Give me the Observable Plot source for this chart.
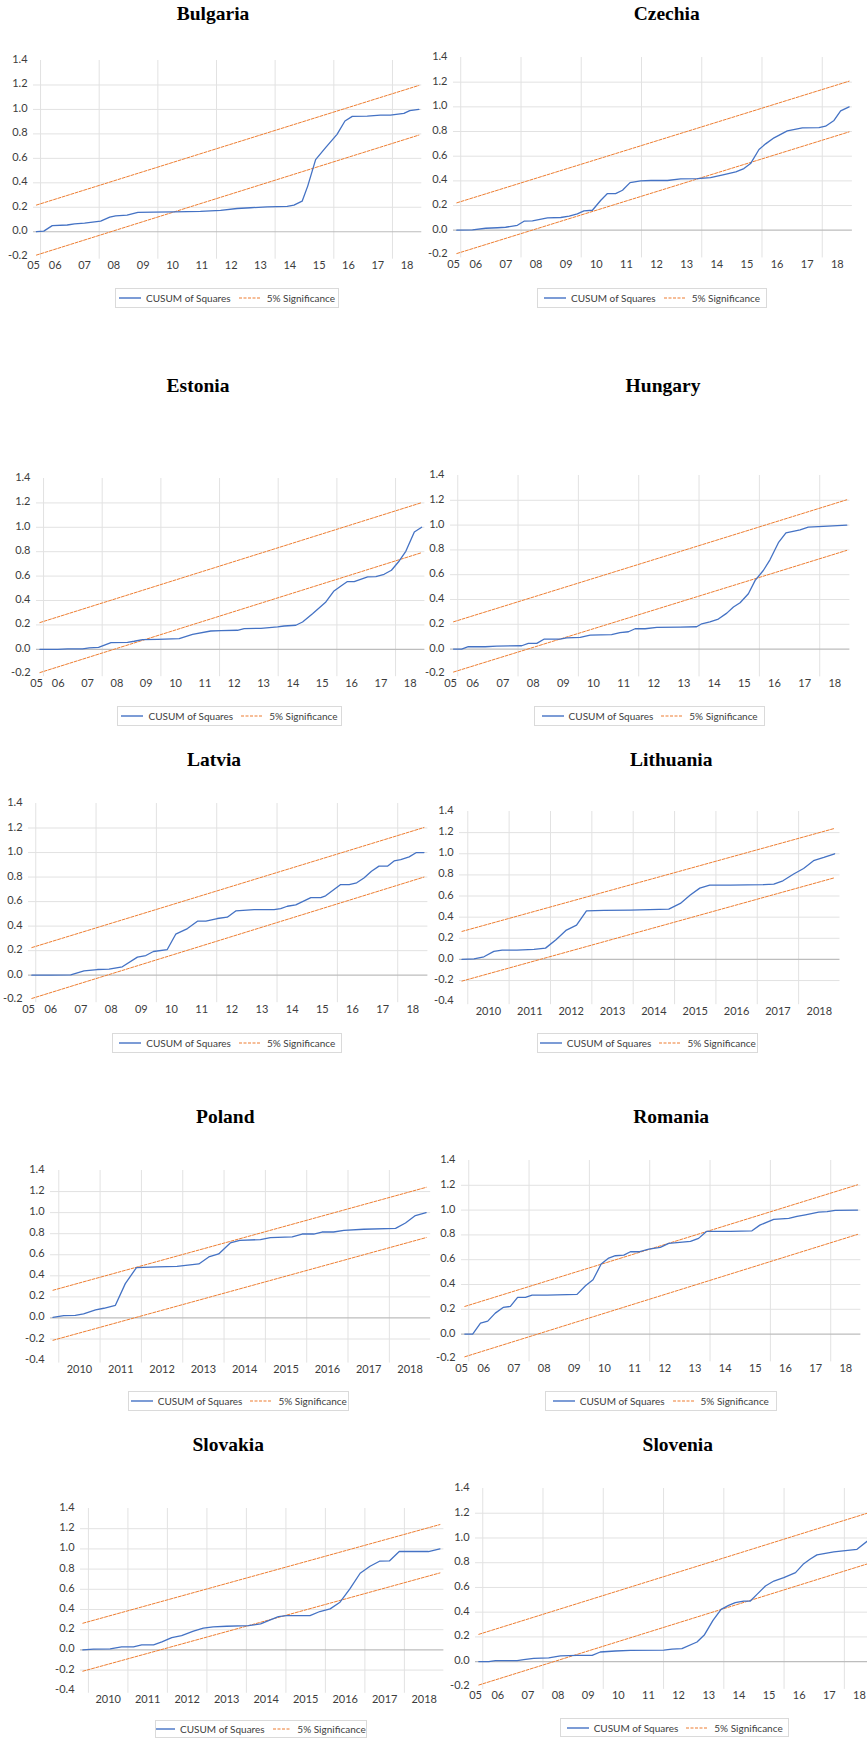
<!DOCTYPE html>
<html>
<head>
<meta charset="utf-8">
<script src="https://cdn.jsdelivr.net/npm/d3@7"></script>
<script src="https://cdn.jsdelivr.net/npm/@observablehq/plot@0.6"></script>
<style>
  html, body { margin: 0; padding: 0; background: #fff; overflow: hidden; }
  #page { position: relative; width: 867px; height: 1738px; overflow: hidden; }
  .panel { position: absolute; }
  .panel svg { max-width: none !important; }
  .title {
    position: absolute; white-space: nowrap; transform: translateX(-50%);
    font-family: "Liberation Serif", "Times New Roman", serif; font-weight: bold;
    font-size: 19.5px; line-height: 19.5px; color: #000;
  }
  .legend {
    position: absolute; box-sizing: border-box; border: 1px solid #dadada;
    display: flex; align-items: center; justify-content: center;
    font-family: Lato, sans-serif; font-size: 10px; color: #404040; white-space: nowrap;
  }
  .legend svg { display: block; }
</style>
</head>
<body>
<div id="page"></div>
<script>
// CUSUM of squares paths: [decimal year, cumulative share]
const bulgaria = [[2005.86,0],[2006.11,0.005],[2006.40,0.05],[2006.91,0.055],[2007.16,0.065],[2007.50,0.07],[2008.05,0.087],[2008.36,0.12],[2008.56,0.13],[2008.95,0.135],[2009.32,0.158],[2009.86,0.16],[2010.55,0.163],[2011.45,0.166],[2012.14,0.174],[2012.70,0.19],[2013.16,0.196],[2013.73,0.204],[2014.41,0.207],[2014.64,0.218],[2014.92,0.25],[2015.11,0.373],[2015.38,0.59],[2015.72,0.687],[2016.11,0.796],[2016.38,0.905],[2016.63,0.943],[2017.14,0.945],[2017.59,0.954],[2017.93,0.954],[2018.39,0.967],[2018.59,0.99],[2018.90,1.0]];
const czechia = [[2005.87,0],[2006.39,0.003],[2006.83,0.016],[2007.22,0.02],[2007.49,0.024],[2007.88,0.04],[2008.10,0.073],[2008.38,0.076],[2008.88,0.10],[2009.32,0.103],[2009.60,0.114],[2009.87,0.132],[2010.09,0.157],[2010.37,0.162],[2010.65,0.243],[2010.87,0.297],[2011.14,0.297],[2011.37,0.324],[2011.62,0.386],[2011.97,0.40],[2012.31,0.403],[2012.86,0.403],[2013.30,0.416],[2013.85,0.419],[2014.29,0.427],[2014.74,0.451],[2015.13,0.473],[2015.40,0.50],[2015.62,0.54],[2015.90,0.654],[2016.12,0.70],[2016.40,0.749],[2016.84,0.805],[2017.34,0.83],[2017.89,0.832],[2018.11,0.843],[2018.39,0.89],[2018.61,0.968],[2018.89,1.0]];
const estonia = [[2005.875,0],[2006.48,0],[2006.82,0.003],[2007.33,0.003],[2007.56,0.011],[2007.875,0.016],[2008.30,0.055],[2008.86,0.057],[2009.09,0.066],[2009.375,0.079],[2009.89,0.082],[2010.625,0.087],[2011.08,0.123],[2011.70,0.15],[2012.05,0.153],[2012.61,0.156],[2012.84,0.169],[2013.41,0.172],[2013.98,0.183],[2014.20,0.191],[2014.60,0.197],[2014.83,0.224],[2015.17,0.292],[2015.625,0.388],[2015.89,0.475],[2016.14,0.519],[2016.36,0.555],[2016.59,0.555],[2017.05,0.593],[2017.33,0.596],[2017.61,0.615],[2017.86,0.648],[2018.125,0.724],[2018.35,0.803],[2018.64,0.962],[2018.89,1.0]];
const hungary = [[2005.86,0],[2006.13,0],[2006.35,0.019],[2006.91,0.019],[2007.29,0.024],[2008.12,0.027],[2008.34,0.046],[2008.62,0.046],[2008.87,0.081],[2009.39,0.081],[2009.61,0.091],[2010.06,0.094],[2010.39,0.113],[2011.10,0.116],[2011.38,0.132],[2011.66,0.14],[2011.88,0.164],[2012.21,0.164],[2012.60,0.175],[2013.37,0.177],[2013.92,0.18],[2014.09,0.204],[2014.36,0.22],[2014.64,0.242],[2014.92,0.29],[2015.14,0.339],[2015.36,0.374],[2015.635,0.446],[2015.86,0.554],[2016.13,0.634],[2016.35,0.72],[2016.63,0.858],[2016.88,0.938],[2017.35,0.962],[2017.62,0.984],[2018.12,0.989],[2018.895,1.0]];
const latvia = [[2005.87,0],[2006.50,0],[2007.16,0.003],[2007.60,0.035],[2008.04,0.046],[2008.43,0.049],[2008.87,0.068],[2009.37,0.147],[2009.65,0.16],[2009.90,0.193],[2010.36,0.209],[2010.64,0.334],[2011.03,0.38],[2011.36,0.44],[2011.64,0.44],[2012.02,0.462],[2012.35,0.473],[2012.63,0.524],[2013.24,0.535],[2013.90,0.535],[2014.12,0.543],[2014.34,0.562],[2014.62,0.573],[2015.12,0.633],[2015.45,0.633],[2015.61,0.647],[2016.11,0.739],[2016.39,0.739],[2016.64,0.753],[2016.88,0.793],[2017.13,0.848],[2017.38,0.889],[2017.66,0.889],[2017.88,0.932],[2018.10,0.943],[2018.38,0.965],[2018.62,1.0],[2018.87,1.0]];
const lithuania = [[2009.86,0],[2010.15,0.006],[2010.39,0.025],[2010.63,0.076],[2010.83,0.088],[2011.19,0.088],[2011.60,0.095],[2011.88,0.107],[2012.14,0.189],[2012.385,0.278],[2012.63,0.325],[2012.87,0.46],[2013.29,0.464],[2013.93,0.467],[2014.86,0.476],[2015.14,0.53],[2015.38,0.609],[2015.61,0.675],[2015.85,0.703],[2016.35,0.703],[2017.16,0.707],[2017.40,0.713],[2017.62,0.744],[2017.88,0.808],[2018.12,0.861],[2018.36,0.934],[2018.61,0.965],[2018.87,1.0]];
const poland = [[2009.86,0.006],[2010.12,0.022],[2010.40,0.025],[2010.60,0.038],[2010.89,0.076],[2011.09,0.092],[2011.37,0.12],[2011.61,0.326],[2011.88,0.478],[2012.38,0.484],[2012.86,0.49],[2013.39,0.513],[2013.63,0.579],[2013.87,0.608],[2014.15,0.712],[2014.38,0.737],[2014.88,0.744],[2015.12,0.763],[2015.65,0.769],[2015.89,0.797],[2016.17,0.797],[2016.37,0.816],[2016.65,0.816],[2016.90,0.832],[2017.38,0.842],[2018.15,0.851],[2018.39,0.902],[2018.63,0.972],[2018.89,1.0]];
const romania = [[2005.87,0],[2006.13,0],[2006.39,0.089],[2006.63,0.105],[2006.88,0.169],[2007.14,0.215],[2007.38,0.223],[2007.62,0.296],[2007.88,0.296],[2008.10,0.315],[2008.60,0.315],[2009.59,0.32],[2009.87,0.39],[2010.12,0.438],[2010.39,0.565],[2010.64,0.613],[2010.86,0.632],[2011.14,0.637],[2011.36,0.664],[2011.64,0.664],[2011.97,0.685],[2012.35,0.699],[2012.63,0.731],[2013.35,0.747],[2013.62,0.772],[2013.88,0.828],[2014.67,0.828],[2015.39,0.833],[2015.65,0.879],[2016.11,0.925],[2016.61,0.933],[2016.88,0.949],[2017.16,0.962],[2017.60,0.984],[2017.88,0.987],[2018.15,0.997],[2018.89,1.0]];
const slovakia = [[2009.86,0],[2010.13,0.007],[2010.55,0.01],[2010.84,0.03],[2011.14,0.03],[2011.35,0.05],[2011.65,0.05],[2011.86,0.079],[2012.11,0.122],[2012.36,0.142],[2012.66,0.185],[2012.91,0.215],[2013.16,0.228],[2013.50,0.234],[2014.05,0.241],[2014.36,0.257],[2014.56,0.29],[2014.81,0.33],[2015.02,0.34],[2015.61,0.34],[2015.86,0.38],[2016.12,0.406],[2016.37,0.472],[2016.62,0.604],[2016.88,0.759],[2017.13,0.828],[2017.37,0.878],[2017.62,0.881],[2017.87,0.974],[2018.61,0.974],[2018.90,1.0]];
const slovenia = [[2005.87,0],[2006.20,0],[2006.42,0.008],[2007.14,0.008],[2007.36,0.016],[2007.69,0.027],[2008.19,0.03],[2008.58,0.046],[2009.13,0.051],[2009.63,0.051],[2009.90,0.078],[2010.40,0.086],[2010.90,0.092],[2012.01,0.094],[2012.28,0.102],[2012.61,0.105],[2013.11,0.159],[2013.36,0.218],[2013.64,0.334],[2013.91,0.423],[2014.16,0.455],[2014.38,0.477],[2014.66,0.49],[2014.88,0.49],[2015.10,0.544],[2015.38,0.612],[2015.66,0.652],[2015.99,0.679],[2016.38,0.72],[2016.63,0.787],[2016.87,0.83],[2017.09,0.863],[2017.65,0.887],[2018.42,0.908],[2018.77,0.976],[2018.89,1.0]];

// 5% significance bounds: value at the first and at the last observation
const bulgariaUpper = [0.218, 1.196], bulgariaLower = [-0.191, 0.79];
const czechiaUpper = [0.222, 1.208], czechiaLower = [-0.189, 0.797];
const estoniaUpper = [0.219, 1.202], estoniaLower = [-0.191, 0.792];
const hungaryUpper = [0.22, 1.204], hungaryLower = [-0.185, 0.796];
const latviaUpper = [0.225, 1.204], latviaLower = [-0.19, 0.80];
const lithuaniaUpper = [0.265, 1.24], lithuaniaLower = [-0.205, 0.773];
const polandUpper = [0.263, 1.24], polandLower = [-0.212, 0.763];
const romaniaUpper = [0.223, 1.204], romaniaLower = [-0.183, 0.804];
const slovakiaUpper = [0.264, 1.241], slovakiaLower = [-0.211, 0.762];
const sloveniaUpper = [0.221, 1.21], sloveniaLower = [-0.189, 0.80];

// Axis ticks and labels
const shortYearLabels = ["05","06","07","08","09","10","11","12","13","14","15","16","17","18"];
const shortYearTicks = [2005.76,2006.5,2007.5,2008.5,2009.5,2010.5,2011.5,2012.5,2013.5,2014.5,2015.5,2016.5,2017.5,2018.5];
const shortGridYears = [2006,2008,2010,2012,2014,2016,2018];
const longYearLabels = ["2010","2011","2012","2013","2014","2015","2016","2017","2018"];
const longYearTicks = [2010.5,2011.5,2012.5,2013.5,2014.5,2015.5,2016.5,2017.5,2018.5];
const longGridYears = [2010,2011,2012,2013,2014,2015,2016,2017,2018];
const shortYTicks = [-0.2,0,0.2,0.4,0.6,0.8,1.0,1.2,1.4];
const longYTicks = [-0.4,-0.2,0,0.2,0.4,0.6,0.8,1.0,1.2,1.4];
const seriesNames = ["CUSUM of Squares", "5% Significance"];

const BLUE = "#4472C4", ORANGE = "#ED7D31";

// Page layout: frame = [left, right, top, bottom], title = [centre x, baseline], legend = [left, top, right, bottom]
const panels = [
  {name: "Bulgaria",  data: bulgaria,  upper: bulgariaUpper,  lower: bulgariaLower,  axis: "short", frame: [33.0, 421.3, 59.5, 255.2],     title: [213, 20.7],     legend: [115, 288, 339, 308]},
  {name: "Czechia",   data: czechia,   upper: czechiaUpper,   lower: czechiaLower,   axis: "short", frame: [452.8, 851.7, 57.3, 254.7],    title: [666.7, 20.7],   legend: [536.7, 288, 767.3, 308]},
  {name: "Estonia",   data: estonia,   upper: estoniaUpper,   lower: estoniaLower,   axis: "short", frame: [35.6, 424.0, 478.2, 673.4],    title: [198, 392],      legend: [117.3, 706, 341.7, 726]},
  {name: "Hungary",   data: hungary,   upper: hungaryUpper,   lower: hungaryLower,   axis: "short", frame: [450.4, 849.8, 475.1, 673.5],   title: [663, 392],      legend: [534.3, 706, 765, 726]},
  {name: "Latvia",    data: latvia,    upper: latviaUpper,    lower: latviaLower,    axis: "short", frame: [27.8, 427.2, 803.3, 999.5],    title: [214, 766.7],    legend: [112.3, 1033, 342.3, 1053]},
  {name: "Lithuania", data: lithuania, upper: lithuaniaUpper, lower: lithuaniaLower, axis: "long",  frame: [459.1, 839.6, 811.4, 1001.6],  title: [671.3, 766.7],  legend: [537.3, 1033, 758.3, 1053]},
  {name: "Poland",    data: poland,    upper: polandUpper,    lower: polandLower,    axis: "long",  frame: [50.1, 430.3, 1170.2, 1359.8],  title: [225.3, 1123.3], legend: [128.3, 1391, 349.3, 1411]},
  {name: "Romania",   data: romania,   upper: romaniaUpper,   lower: romaniaLower,   axis: "short", frame: [461.1, 860.5, 1159.7, 1358.1], title: [671.2, 1123.3], legend: [545, 1391, 776.7, 1411]},
  {name: "Slovakia",  data: slovakia,  upper: slovakiaUpper,  lower: slovakiaLower,  axis: "long",  frame: [80.4, 443.8, 1507.9, 1689.7],  title: [228.2, 1451.7], legend: [155.3, 1720, 366.7, 1738]},
  {name: "Slovenia",  data: slovenia,  upper: sloveniaUpper,  lower: sloveniaLower,  axis: "short", frame: [475.1, 874.1, 1487.5, 1685.4], title: [677.8, 1451.7], legend: [560, 1718, 789.3, 1737]}
];

const page = document.getElementById("page");

function drawPanel(p) {
  const short = p.axis === "short";
  const [fl, fr, ft, fb] = p.frame;
  const mL = 40, mR = 4, mT = 6, mB = 26;
  const xDomain = short ? [shortYearTicks[0], 2019] : [2009.8, 2019];
  const yTicks = short ? shortYTicks : longYTicks;
  const yDomain = [yTicks[0], yTicks[yTicks.length - 1]];
  const xTicks = short ? shortYearTicks : longYearTicks;
  const xLabels = short ? shortYearLabels : longYearLabels;
  const labelOf = new Map(xTicks.map((t, i) => [t, xLabels[i]]));
  const grid = short ? shortGridYears : longGridYears;

  const series = p.data.map(([year, value]) => ({year, value}));
  const first = series[0].year, last = series[series.length - 1].year;
  const upper = [{year: first, value: p.upper[0]}, {year: last, value: p.upper[1]}];
  const lower = [{year: first, value: p.lower[0]}, {year: last, value: p.lower[1]}];

  const chart = Plot.plot({
    width: fr - fl + mL + mR,
    height: fb - ft + mT + mB,
    marginLeft: mL, marginRight: mR, marginTop: mT, marginBottom: mB,
    style: {fontFamily: "Lato, sans-serif", fontSize: "11px", color: "#3c3c3c", background: "transparent", overflow: "visible"},
    x: {type: "linear", domain: xDomain, label: null},
    y: {domain: yDomain, label: null},
    marks: [
      // horizontal gridlines (no line at the top and bottom limits)
      Plot.ruleY(yTicks.filter(v => v !== 0 && v !== yDomain[0] && v !== yDomain[1]), {stroke: "#e2e2e2", strokeWidth: 1}),
      // vertical gridlines at year boundaries, running a little past the bottom limit
      Plot.ruleX(grid, {y1: yDomain[1], y2: yDomain[0], insetBottom: -3, stroke: "#e2e2e2", strokeWidth: 1}),
      Plot.ruleY([0], {stroke: "#bdbdbd", strokeWidth: 1.2}),
      Plot.line(upper, {x: "year", y: "value", stroke: ORANGE, strokeWidth: 1, strokeDasharray: "3,1.5"}),
      Plot.line(lower, {x: "year", y: "value", stroke: ORANGE, strokeWidth: 1, strokeDasharray: "3,1.5"}),
      Plot.line(series, {x: "year", y: "value", stroke: BLUE, strokeWidth: 1.3}),
      Plot.axisY(yTicks, {tickSize: 0, tickPadding: 6, dy: -1, label: null, tickFormat: d => d.toFixed(1)}),
      Plot.axisX(xTicks, {tickSize: 0, tickPadding: 5, label: null, tickFormat: d => labelOf.get(d)})
    ]
  });

  const holder = document.createElement("div");
  holder.className = "panel";
  holder.style.left = (fl - mL) + "px";
  holder.style.top = (ft - mT) + "px";
  holder.style.width = (fr - fl + mL + mR) + "px";
  holder.appendChild(chart);
  page.appendChild(holder);

  const title = document.createElement("div");
  title.className = "title";
  title.textContent = p.name;
  title.style.left = p.title[0] + "px";
  title.style.top = (p.title[1] - 16.3) + "px";
  page.appendChild(title);

  const [ll, lt, lr, lb] = p.legend;
  const leg = document.createElement("div");
  leg.className = "legend";
  leg.style.left = ll + "px";
  leg.style.top = lt + "px";
  leg.style.width = (lr - ll) + "px";
  leg.style.height = (lb - lt) + "px";
  leg.innerHTML =
    `<svg width="22" height="4"><line x1="0" x2="22" y1="2" y2="2" stroke="${BLUE}" stroke-width="1.4"/></svg>` +
    `<span style="margin:0 8px 0 5px">${seriesNames[0]}</span>` +
    `<svg width="22" height="4"><line x1="0" x2="22" y1="2" y2="2" stroke="${ORANGE}" stroke-width="1.2" stroke-dasharray="3,1.5"/></svg>` +
    `<span style="margin-left:6px">${seriesNames[1]}</span>`;
  page.appendChild(leg);
}

panels.forEach(drawPanel);
</script>
</body>
</html>
